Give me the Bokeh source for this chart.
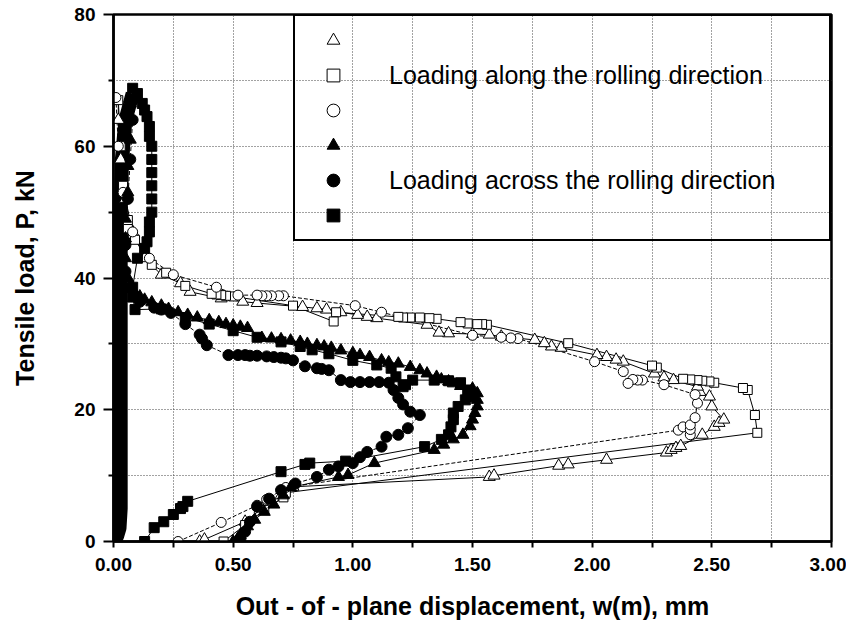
from bokeh.plotting import figure
from bokeh.models import (FixedTicker, PrintfTickFormatter, Legend, LegendItem, Range1d)
from bokeh.core.properties import value
from bokeh.embed import file_html
from bokeh.resources import INLINE

# ---------------- data ----------------
# Loading along the rolling direction (open markers)
ot_x = [0.36, 0.38, 0.55, 0.62, 0.70, 0.75, 1.57, 1.59, 1.86, 1.90, 2.06, 2.31, 2.33, 2.35, 2.37,
        2.46, 2.51, 2.53, 2.55, 2.50, 2.49, 2.45, 2.44, 2.34, 2.30, 2.26, 2.13, 2.10, 2.06, 2.02,
        1.87, 1.83, 1.80, 1.76, 1.62, 1.57, 1.50, 1.40, 1.36, 1.31, 1.10, 1.06, 1.02, 0.95, 0.89,
        0.85, 0.79, 0.60, 0.54, 0.45, 0.32, 0.28, 0.20, 0.13, 0.08, 0.05, 0.03, 0.02, 0.02]
ot_p = [0.0, 0.3, 3.0, 5.0, 7.0, 8.3, 9.8, 10.0, 11.5, 11.7, 12.4, 13.5, 13.9, 14.2, 14.5,
        16.2, 17.4, 18.0, 18.5, 20.5, 22.0, 22.7, 23.5, 24.5, 24.9, 25.5, 27.3, 27.6, 28.0, 28.3,
        29.4, 29.6, 30.1, 30.6, 31.1, 31.4, 31.5, 31.6, 31.7, 32.9, 33.9, 34.1, 34.4, 34.8, 35.2,
        35.4, 35.6, 36.2, 36.4, 36.9, 37.9, 39.2, 40.5, 43.0, 47.0, 52.0, 58.0, 64.0, 67.0]

os_x = [0.46, 0.55, 0.63, 0.71, 0.72, 2.69, 2.68, 2.65, 2.63, 2.51, 2.49, 2.46, 2.44, 2.41,
        2.38, 2.27, 2.25, 1.90, 1.56, 1.54, 1.52, 1.48, 1.45, 1.35, 1.32, 1.28, 1.24, 1.21,
        1.19, 0.93, 0.92, 0.75, 0.50, 0.47, 0.45, 0.43, 0.41, 0.30, 0.22, 0.16, 0.09, 0.06,
        0.06, 0.04, 0.03, 0.02]
os_p = [0.0, 2.5, 4.8, 6.7, 7.4, 16.5, 19.2, 23.0, 23.3, 24.1, 24.3, 24.4, 24.5, 24.6,
        24.7, 26.4, 26.7, 30.1, 32.9, 33.0, 33.0, 33.1, 33.3, 33.8, 33.9, 34.0, 34.0, 34.0,
        34.1, 34.8, 33.4, 35.8, 37.2, 37.3, 37.4, 37.5, 37.6, 38.8, 40.8, 42.0, 45.8, 47.5,
        48.8, 54.0, 60.0, 67.0]

oc_x = [0.27, 0.45, 0.60, 0.64, 0.72, 2.36, 2.38, 2.41, 2.41, 2.41, 2.43, 2.44, 2.43, 2.30,
        2.21, 2.19, 2.17, 2.15, 2.13, 2.01, 1.69, 1.66, 1.62, 1.50, 1.12, 1.01, 0.71, 0.69,
        0.66, 0.64, 0.62, 0.60, 0.52, 0.43, 0.25, 0.15, 0.08, 0.04, 0.02, 0.01]
oc_p = [0.0, 2.9, 5.5, 6.4, 8.2, 16.9, 17.4, 16.2, 17.0, 17.7, 18.8, 21.0, 22.3, 23.8,
        24.5, 24.5, 24.6, 24.0, 25.8, 27.3, 30.8, 30.9, 31.0, 31.3, 34.8, 35.8, 37.3, 37.3,
        37.3, 37.3, 37.3, 37.4, 37.4, 38.6, 40.5, 43.0, 47.0, 53.0, 60.0, 67.4]

# Loading across the rolling direction (filled markers)
ft_x = [0.50, 0.52, 0.53, 0.56, 0.59, 0.63, 0.67, 0.71, 0.74, 0.94, 0.98, 1.09, 1.34, 1.38,
        1.42, 1.46, 1.49, 1.50, 1.51, 1.52, 1.52, 1.52, 1.50, 1.45, 1.42, 1.40, 1.37, 1.35,
        1.31, 1.28, 1.24, 1.19, 1.15, 1.12, 1.07, 1.03, 1.00, 0.95, 0.91, 0.88, 0.85, 0.81,
        0.78, 0.74, 0.70, 0.66, 0.62, 0.56, 0.53, 0.50, 0.47, 0.44, 0.40, 0.35, 0.31, 0.27,
        0.23, 0.20, 0.16, 0.13, 0.11, 0.09, 0.07, 0.06, 0.05, 0.05, 0.05, 0.06, 0.06, 0.07,
        0.07, 0.07]
ft_p = [0.0, 0.5, 1.0, 2.3, 3.3, 4.5, 5.6, 7.0, 8.2, 9.8, 10.1, 11.9, 13.9, 14.7,
        15.5, 16.2, 17.5, 18.5, 19.5, 20.5, 21.5, 22.5, 23.2, 23.6, 24.0, 24.3, 24.6, 25.0,
        25.5, 26.0, 26.5, 27.0, 27.2, 27.5, 28.0, 28.3, 28.6, 29.0, 29.4, 29.6, 29.8, 30.0,
        30.3, 30.5, 30.7, 30.8, 30.9, 32.4, 32.6, 32.8, 33.0, 33.3, 33.6, 34.0, 34.4, 34.8,
        35.3, 35.8, 36.3, 36.7, 37.2, 37.7, 38.8, 40.0, 43.0, 46.0, 49.0, 53.0, 57.0, 61.0,
        64.0, 66.5]

fc_x = [0.53, 0.55, 0.57, 0.60, 0.65, 0.70, 0.76, 0.85, 0.90, 0.94, 1.00, 1.03, 1.06, 1.12,
        1.14, 1.19, 1.23, 1.28, 1.24, 1.21, 1.19, 1.17, 1.15, 1.11, 1.07, 1.03, 0.99, 0.95,
        0.90, 0.87, 0.85, 0.80, 0.75, 0.72, 0.70, 0.67, 0.64, 0.60, 0.57, 0.55, 0.52, 0.48,
        0.39, 0.37, 0.36, 0.30, 0.24, 0.20, 0.17, 0.11, 0.07, 0.05, 0.05, 0.06, 0.07, 0.08,
        0.08]
fc_p = [0.3, 1.5, 3.0, 5.3, 6.5, 7.8, 8.8, 9.8, 10.9, 11.4, 11.9, 12.8, 13.6, 14.4,
        15.9, 16.2, 17.2, 19.2, 19.7, 20.8, 21.8, 23.0, 24.1, 24.2, 24.2, 24.2, 24.2, 24.5,
        26.0, 26.2, 26.3, 26.6, 27.5, 27.8, 27.9, 28.0, 28.1, 28.2, 28.2, 28.3, 28.3, 28.3,
        29.8, 30.8, 31.4, 33.0, 34.7, 35.2, 35.5, 36.4, 38.5, 41.0, 45.0, 52.0, 58.0, 64.0,
        67.0]

fs_x = [0.13, 0.17, 0.21, 0.25, 0.28, 0.29, 0.31, 0.70, 0.80, 0.82, 0.97, 1.30, 1.37, 1.40,
        1.41, 1.42, 1.42, 1.44, 1.47, 1.50, 1.48, 1.45, 1.40, 1.34, 1.25, 1.22, 1.21, 1.18,
        1.16, 1.10, 1.00, 0.90, 0.83, 0.78, 0.70, 0.60, 0.50, 0.40, 0.30, 0.20, 0.09, 0.08,
        0.08, 0.10, 0.13, 0.14, 0.15, 0.15, 0.16, 0.16, 0.16, 0.16, 0.16, 0.16, 0.15, 0.15,
        0.14, 0.13, 0.12, 0.10, 0.08]
fs_p = [0.0, 2.1, 3.0, 4.1, 5.0, 5.3, 6.1, 10.6, 11.7, 11.9, 12.2, 14.4, 15.5, 16.2,
        17.4, 18.5, 19.5, 20.5, 21.5, 22.0, 23.0, 24.1, 24.4, 24.5, 24.5, 23.8, 23.5, 25.0,
        26.3, 26.8, 27.5, 28.5, 29.1, 29.6, 30.3, 31.0, 32.0, 33.0, 34.0, 35.3, 35.2, 37.1,
        38.6, 43.0, 44.5, 45.5, 47.0, 48.5, 50.0, 52.0, 54.0, 56.0, 58.0, 60.0, 61.5, 63.0,
        64.5, 65.5, 66.5, 68.0, 68.8]

# dense record near zero displacement (unloading branch)
band_x = [0.08, 0.05, 0.035, 0.03, 0.03, 0.03, 0.03, 0.03, 0.03, 0.03, 0.025, 0.015, 0.005]
band_p = [68.0, 64.0, 58.0, 50.0, 42.0, 35.0, 28.0, 20.0, 12.0, 5.0, 2.0, 0.8, 0.0]

x_ticks = [0.0, 0.5, 1.0, 1.5, 2.0, 2.5, 3.0]
x_minor = [0.25, 0.75, 1.25, 1.75, 2.25, 2.75]
y_ticks = [0, 20, 40, 60, 80]
y_minor = [10, 30, 50, 70]

label_along = "Loading along the rolling direction"
label_across = "Loading across the rolling direction"

# ---------------- figure ----------------
p = figure(width=846, height=622, output_backend="svg", toolbar_location=None,
           x_range=Range1d(0, 3), y_range=Range1d(0, 80),
           min_border_left=113, min_border_right=15, min_border_top=14, min_border_bottom=80)
p.background_fill_color = "white"
p.border_fill_color = "white"
p.outline_line_color = "black"
p.outline_line_alpha = 1.0
p.outline_line_width = 2.5

FONT = "Liberation Sans"

p.xaxis.ticker = FixedTicker(ticks=x_ticks, minor_ticks=x_minor)
p.yaxis.ticker = FixedTicker(ticks=y_ticks, minor_ticks=y_minor)
p.xaxis.formatter = PrintfTickFormatter(format="%.2f")
for ax in (p.xaxis, p.yaxis):
    ax.axis_line_width = 2.5
    ax.axis_line_color = "black"
    ax.major_tick_line_width = 2
    ax.minor_tick_line_width = 2
    ax.major_tick_in = 0
    ax.minor_tick_in = 0
    ax.major_label_text_font = FONT
    ax.major_label_text_font_style = "bold"
    ax.major_label_text_font_size = "19px"
    ax.major_label_text_color = "black"
    ax.axis_label_text_font = FONT
    ax.axis_label_text_font_style = "bold"
    ax.axis_label_text_font_size = "25px"
    ax.axis_label_text_color = "black"
p.xaxis.major_tick_out = 6
p.xaxis.minor_tick_out = 6
p.yaxis.major_tick_out = 10
p.yaxis.minor_tick_out = 5
p.xaxis.major_label_standoff = 10
p.yaxis.major_label_standoff = 8
p.xaxis.axis_label = "Out - of - plane displacement, w(m), mm"
p.yaxis.axis_label = "Tensile load, P, kN"
p.xaxis.axis_label_standoff = 18
p.yaxis.axis_label_standoff = 32

for g in (p.xgrid, p.ygrid):
    g.grid_line_color = "#444444"
    g.grid_line_dash = "1 2"
    g.grid_line_width = 1
    g.minor_grid_line_color = "#444444"
    g.minor_grid_line_dash = "1 2"
    g.minor_grid_line_width = 1

# ---------------- series ----------------
p.line(band_x, band_p, line_color="black", line_width=14)

p.line(ot_x, ot_p, line_color="black", line_width=1)
p.line(os_x, os_p, line_color="black", line_width=1)
p.line(oc_x, oc_p, line_color="black", line_width=1, line_dash="4 2")
p.line(ft_x, ft_p, line_color="black", line_width=1)
p.line(fc_x, fc_p, line_color="black", line_width=1, line_dash="4 2")
p.line(fs_x, fs_p, line_color="black", line_width=1)

r_ot = p.scatter(ot_x, ot_p, marker="triangle", size=12, fill_color="white", line_color="black", line_width=1)
r_os = p.scatter(os_x, os_p, marker="square", size=9, fill_color="white", line_color="black", line_width=1)
r_oc = p.scatter(oc_x, oc_p, marker="circle", size=10, fill_color="white", line_color="black", line_width=1)
r_ft = p.scatter(ft_x, ft_p, marker="triangle", size=12, fill_color="black", line_color="black")
r_fc = p.scatter(fc_x, fc_p, marker="circle", size=11, fill_color="black", line_color="black")
r_fs = p.scatter(fs_x, fs_p, marker="square", size=10, fill_color="black", line_color="black")

legend = Legend(items=[
    LegendItem(label=value(""), renderers=[r_ot]),
    LegendItem(label=value(label_along), renderers=[r_os]),
    LegendItem(label=value(""), renderers=[r_oc]),
    LegendItem(label=value(""), renderers=[r_ft]),
    LegendItem(label=value(label_across), renderers=[r_fc]),
    LegendItem(label=value(""), renderers=[r_fs]),
])
legend.location = "top_right"
legend.margin = 0
legend.padding = 8
legend.spacing = 3
legend.glyph_width = 60
legend.glyph_height = 32
legend.label_height = 32
legend.label_standoff = 26
legend.label_width = 432
legend.label_text_font = FONT
legend.label_text_font_size = "25px"
legend.label_text_color = "black"
legend.border_line_color = "black"
legend.border_line_alpha = 1.0
legend.border_line_width = 2.5
legend.background_fill_alpha = 0
legend.click_policy = "none"
p.add_layout(legend, "center")

open("out.html", "w").write(file_html(p, INLINE))
